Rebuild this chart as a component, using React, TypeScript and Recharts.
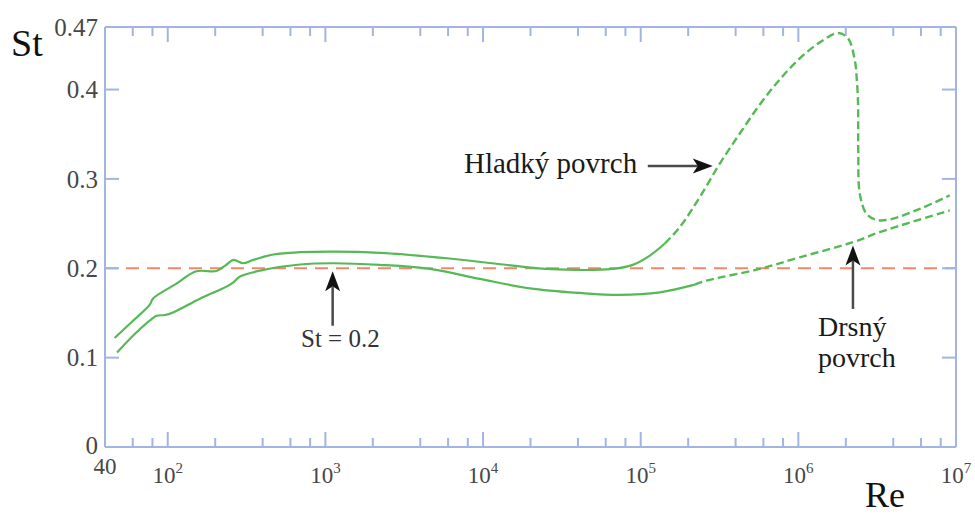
import React from 'react';
import { LineChart, Line, XAxis, YAxis, ReferenceLine } from 'recharts';

// Strouhal number vs. Reynolds number for a circular cylinder
// Smooth surface ("Hladký povrch"): measured part (solid) and extrapolated part (dashed)
const smoothRe = [46, 60, 77, 80.5, 111, 152, 204, 234, 261, 301, 349, 467, 690, 1122, 2218, 5875, 15460, 25290, 66570, 89130, 114300, 142200];
const smoothSt = [0.1219, 0.141, 0.1593, 0.166, 0.1817, 0.1966, 0.197, 0.2036, 0.2094, 0.2056, 0.2094, 0.2154, 0.218, 0.2187, 0.2173, 0.2112, 0.203, 0.1993, 0.1993, 0.2038, 0.2142, 0.2277];
const smoothDashRe = [142200, 177000, 237000, 317500, 425300, 569900, 762500, 1021000, 1368000, 1786000, 2066000, 2280000, 2350000, 2392000, 2396000, 2400000, 2453000, 2706000, 3140000, 3800000, 5890000, 9120000];
const smoothDashSt = [0.2277, 0.246, 0.2796, 0.3171, 0.3508, 0.3833, 0.4113, 0.4349, 0.4528, 0.4633, 0.4573, 0.433, 0.4106, 0.3844, 0.3565, 0.3283, 0.2835, 0.261, 0.2541, 0.2546, 0.2664, 0.2816];

// Rough surface ("Drsný povrch")
const roughRe = [47.7, 62, 79, 85, 96, 108, 160, 236, 261, 287, 385, 690, 1116, 2218, 4600, 9550, 19800, 41100, 73800, 132400, 220300];
const roughSt = [0.1058, 0.1268, 0.1432, 0.1469, 0.1477, 0.1506, 0.166, 0.1795, 0.1843, 0.1907, 0.1974, 0.2042, 0.2056, 0.2038, 0.1993, 0.1881, 0.1776, 0.1724, 0.1702, 0.1731, 0.1817];
const roughDashRe = [220300, 261700, 569900, 1021000, 2223000, 3280000, 9120000];
const roughDashSt = [0.1817, 0.1862, 0.1993, 0.2123, 0.2292, 0.2404, 0.2647];

// Axis ticks
const xLabelTicks = [40, 1e2, 1e3, 1e4, 1e5, 1e6, 1e7];
const xMinorTicks = [
  60, 80,
  200, 400, 600, 800,
  2000, 4000, 6000, 8000,
  20000, 40000, 60000, 80000,
  200000, 400000, 600000, 800000,
  2000000, 4000000, 6000000, 8000000,
];
const xAllTicks = [...xLabelTicks, ...xMinorTicks].sort((a, b) => a - b);
const yTicks = [0, 0.1, 0.2, 0.3, 0.4, 0.47];
const yTickLabels = ['0', '0.1', '0.2', '0.3', '0.4', '0.47'];
const stReference = 0.2;

// Annotation arrows: [tail, tip]
const arrowStRef = [{ x: 1112, y: 0.1357 }, { x: 1112, y: 0.1966 }];
const arrowSmooth = [{ x: 110900, y: 0.3144 }, { x: 286500, y: 0.3144 }];
const arrowRough = [{ x: 2220000, y: 0.1545 }, { x: 2220000, y: 0.2255 }];

const toRows = (re: number[], st: number[]) => re.map((r, i) => ({ re: r, st: st[i] }));
const smoothSolid = toRows(smoothRe, smoothSt);
const smoothDashed = toRows(smoothDashRe, smoothDashSt);
const roughSolid = toRows(roughRe, roughSt);
const roughDashed = toRows(roughDashRe, roughDashSt);

const FRAME = '#a2b5e2';
const GREEN = '#55b955';
const SERIF = 'Liberation Serif, Times New Roman, serif';
const LABEL_FILL = '#474747';

// Centripetal Catmull-Rom curve (passes through every point, copes with the
// near-vertical drop after the peak)
const catmullRom = (context: any) => {
  let pts: number[][] = [];
  const EPS = 1e-9;
  return {
    areaStart() {},
    areaEnd() {},
    lineStart() {
      pts = [];
    },
    point(x: number, y: number) {
      pts.push([+x, +y]);
    },
    lineEnd() {
      if (!pts.length) return;
      context.moveTo(pts[0][0], pts[0][1]);
      if (pts.length === 2) {
        context.lineTo(pts[1][0], pts[1][1]);
        return;
      }
      const d = (a: number[], b: number[]) => Math.hypot(b[0] - a[0], b[1] - a[1]);
      for (let i = 0; i < pts.length - 1; i++) {
        const p0 = pts[i - 1] || pts[i];
        const p1 = pts[i];
        const p2 = pts[i + 1];
        const p3 = pts[i + 2] || p2;
        const l01a = Math.sqrt(d(p0, p1));
        const l12a = Math.sqrt(d(p1, p2));
        const l23a = Math.sqrt(d(p2, p3));
        const l01 = l01a * l01a;
        const l12 = l12a * l12a;
        const l23 = l23a * l23a;
        let c1x = p1[0];
        let c1y = p1[1];
        let c2x = p2[0];
        let c2y = p2[1];
        if (l01a > EPS) {
          const a = 2 * l01 + 3 * l01a * l12a + l12;
          const n = 3 * l01a * (l01a + l12a);
          c1x = (p1[0] * a - p0[0] * l12 + p2[0] * l01) / n;
          c1y = (p1[1] * a - p0[1] * l12 + p2[1] * l01) / n;
        }
        if (l23a > EPS) {
          const b = 2 * l23 + 3 * l23a * l12a + l12;
          const m = 3 * l23a * (l23a + l12a);
          c2x = (p2[0] * b + p1[0] * l23 - p3[0] * l12) / m;
          c2y = (p2[1] * b + p1[1] * l23 - p3[1] * l12) / m;
        }
        context.bezierCurveTo(c1x, c1y, c2x, c2y, p2[0], p2[1]);
      }
    },
  };
};

const isDecade = (v: number) => xLabelTicks.includes(v) && v !== 40;

const BottomTick = (props: any) => {
  const { x, y, payload } = props;
  const v = payload.value as number;
  const corner = v === 40 || v === 1e7;
  const len = isDecade(v) ? 15 : 9;
  let label: React.ReactNode = null;
  if (v === 40) {
    label = (
      <text x={x} y={y + 27} textAnchor="middle" style={{ fontFamily: SERIF }} fontSize={23} fill={LABEL_FILL}>40</text>
    );
  } else if (isDecade(v)) {
    const exp = Math.round(Math.log10(v));
    label = (
      <text x={x} y={y + 36} textAnchor="middle" style={{ fontFamily: SERIF }} fontSize={23} fill={LABEL_FILL}>
        <tspan>10</tspan>
        <tspan fontSize={15} dy={-10}>{exp}</tspan>
      </text>
    );
  }
  return (
    <g>
      {!corner && <line x1={x} y1={y} x2={x} y2={y - len} stroke={FRAME} strokeWidth={2} />}
      {label}
    </g>
  );
};

const TopTick = (props: any) => {
  const { x, y, payload } = props;
  const v = payload.value as number;
  if (v === 40 || v === 1e7) return <g />;
  const len = isDecade(v) ? 15 : 9;
  return <line x1={x} y1={y} x2={x} y2={y + len} stroke={FRAME} strokeWidth={2} />;
};

const LeftTick = (props: any) => {
  const { x, y, payload } = props;
  const v = payload.value as number;
  const idx = yTicks.indexOf(v);
  const inner = v > 0 && v < 0.45;
  return (
    <g>
      {inner && <line x1={x} y1={y} x2={x + 14} y2={y} stroke={FRAME} strokeWidth={2} />}
      <text x={x - 7} y={v === 0 ? y - 2 : y} dy="0.35em" textAnchor="end" style={{ fontFamily: SERIF }} fontSize={25} fill={LABEL_FILL}>
        {yTickLabels[idx]}
      </text>
    </g>
  );
};

const RightTick = (props: any) => {
  const { x, y, payload } = props;
  const v = payload.value as number;
  if (!(v > 0 && v < 0.45)) return <g />;
  return <line x1={x} y1={y} x2={x - 14} y2={y} stroke={FRAME} strokeWidth={2} />;
};

const Arrow = (props: any) => {
  const { x1, y1, x2, y2 } = props;
  const dx = x2 - x1;
  const dy = y2 - y1;
  const len = Math.hypot(dx, dy) || 1;
  const ux = dx / len;
  const uy = dy / len;
  const px = -uy;
  const py = ux;
  const headL = 20;
  const headW = 7.5;
  const notch = 5;
  const bx = x2 - ux * headL;
  const by = y2 - uy * headL;
  const nx = x2 - ux * (headL - notch);
  const ny = y2 - uy * (headL - notch);
  const pts = `${x2},${y2} ${bx + px * headW},${by + py * headW} ${nx},${ny} ${bx - px * headW},${by - py * headW}`;
  return (
    <g>
      <line x1={x1} y1={y1} x2={nx} y2={ny} stroke="#4a4a4a" strokeWidth={2.5} />
      <polygon points={pts} fill="#111" />
    </g>
  );
};

const textStyle = { fontFamily: SERIF };

export default function App() {
  return (
    <div style={{ position: 'absolute', left: 0, top: 0, width: 975, height: 515, background: '#fff' }}>
      <LineChart width={975} height={515} margin={{ top: 26, right: 18, bottom: 0, left: 0 }}>
        <XAxis
          xAxisId="bottom"
          dataKey="re"
          type="number"
          scale="log"
          domain={[40, 1e7]}
          allowDataOverflow
          ticks={xAllTicks}
          interval={0}
          height={68}
          tickSize={0}
          tickMargin={0}
          tickLine={false}
          axisLine={{ stroke: FRAME, strokeWidth: 2 }}
          tick={<BottomTick />}
        />
        <XAxis
          xAxisId="top"
          orientation="top"
          dataKey="re"
          type="number"
          scale="log"
          domain={[40, 1e7]}
          allowDataOverflow
          ticks={xAllTicks}
          interval={0}
          height={1}
          tickSize={0}
          tickMargin={0}
          tickLine={false}
          axisLine={{ stroke: FRAME, strokeWidth: 2 }}
          tick={<TopTick />}
        />
        <YAxis
          yAxisId="left"
          type="number"
          domain={[0, 0.47]}
          allowDataOverflow
          ticks={yTicks}
          interval={0}
          width={105}
          tickSize={0}
          tickMargin={0}
          tickLine={false}
          axisLine={{ stroke: FRAME, strokeWidth: 2 }}
          tick={<LeftTick />}
        />
        <YAxis
          yAxisId="right"
          orientation="right"
          type="number"
          domain={[0, 0.47]}
          allowDataOverflow
          ticks={yTicks}
          interval={0}
          width={1}
          tickSize={0}
          tickMargin={0}
          tickLine={false}
          axisLine={{ stroke: FRAME, strokeWidth: 2 }}
          tick={<RightTick />}
        />

        <ReferenceLine
          xAxisId="bottom"
          yAxisId="left"
          y={stReference}
          stroke="#f2876c"
          strokeWidth={2}
          strokeDasharray="13 8"
        />

        <Line xAxisId="bottom" yAxisId="left" data={smoothSolid} dataKey="st" type={catmullRom as any} stroke={GREEN} strokeWidth={2.2} dot={false} activeDot={false} isAnimationActive={false} />
        <Line xAxisId="bottom" yAxisId="left" data={smoothDashed} dataKey="st" type={catmullRom as any} stroke={GREEN} strokeWidth={2.4} strokeDasharray="8 4" dot={false} activeDot={false} isAnimationActive={false} />
        <Line xAxisId="bottom" yAxisId="left" data={roughSolid} dataKey="st" type={catmullRom as any} stroke={GREEN} strokeWidth={2.2} dot={false} activeDot={false} isAnimationActive={false} />
        <Line xAxisId="bottom" yAxisId="left" data={roughDashed} dataKey="st" type={catmullRom as any} stroke={GREEN} strokeWidth={2.4} strokeDasharray="8 4" dot={false} activeDot={false} isAnimationActive={false} />

        <ReferenceLine xAxisId="bottom" yAxisId="left" segment={arrowStRef} shape={Arrow} ifOverflow="visible" />
        <ReferenceLine xAxisId="bottom" yAxisId="left" segment={arrowSmooth} shape={Arrow} ifOverflow="visible" />
        <ReferenceLine xAxisId="bottom" yAxisId="left" segment={arrowRough} shape={Arrow} ifOverflow="visible" />
      </LineChart>

      <svg
        width={975}
        height={515}
        style={{ position: 'absolute', left: 0, top: 0, pointerEvents: 'none' }}
      >
        <text x={11} y={56} fontSize={38} fill="#111" style={textStyle}>St</text>
        <text x={865} y={507} fontSize={36} fill="#111" style={textStyle}>Re</text>
        <text x={464} y={173} fontSize={29} fill="#1a1a1a" style={textStyle}>Hladký povrch</text>
        <text x={301} y={347} fontSize={25} fill="#333" style={textStyle}>St = 0.2</text>
        <text x={818} y={336} fontSize={28} fill="#1a1a1a" style={textStyle}>Drsný</text>
        <text x={818} y={367} fontSize={28} fill="#1a1a1a" style={textStyle}>povrch</text>
      </svg>
    </div>
  );
}
